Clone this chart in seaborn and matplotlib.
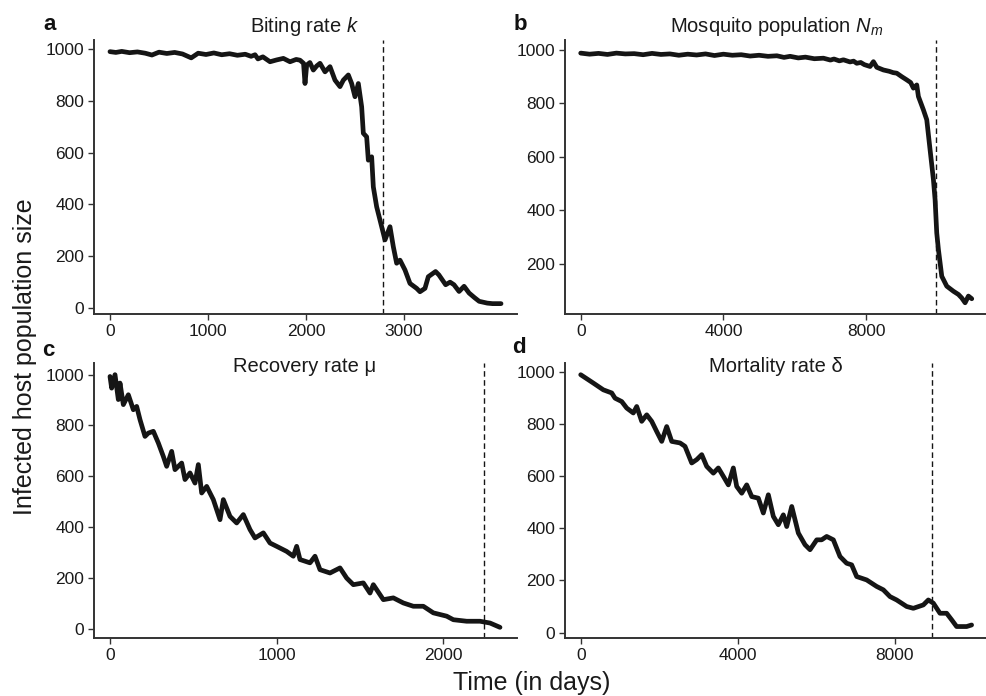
import matplotlib
matplotlib.use("Agg")
import matplotlib.pyplot as plt
import seaborn as sns
import pandas as pd

# ---------------- data ----------------
a_days = [0, 60, 120, 200, 280, 360, 428, 500, 580, 660, 740, 829, 900, 980, 1060, 1140,
          1220, 1300, 1380, 1440, 1480, 1510, 1560, 1633, 1700, 1769, 1837, 1900, 1939, 1975,
          1990, 2007, 2040, 2075, 2110, 2143, 2194, 2245, 2296, 2347, 2381, 2432, 2466, 2500,
          2534, 2568, 2585, 2619, 2636, 2670, 2687, 2721, 2755, 2806, 2857, 2891, 2925, 2959,
          3010, 3061, 3129, 3163, 3214, 3248, 3322, 3356, 3425, 3470, 3510, 3562, 3613, 3664,
          3720, 3767, 3850, 3904, 3990]
a_inf = [990, 987, 991, 986, 989, 984, 977, 988, 983, 987, 981, 966, 984, 979, 985, 978,
         982, 976, 980, 972, 978, 962, 970, 951, 958, 964, 951, 960, 957, 945,
         867, 938, 948, 919, 935, 945, 912, 932, 880, 855, 880, 900, 867, 816,
         867, 777, 675, 661, 571, 584, 468, 391, 340, 263, 314, 237, 173, 185,
         147, 95, 76, 63, 76, 121, 141, 128, 90, 100, 90, 64, 84, 58,
         40, 26, 19, 17, 17]

b_days = [0, 250, 500, 750, 1000, 1250, 1500, 1750, 2000, 2250, 2500, 2750, 3000, 3250,
          3500, 3750, 4000, 4250, 4500, 4750, 5000, 5250, 5500, 5700, 5870, 6100, 6300, 6550,
          6804, 7000, 7100, 7250, 7365, 7550, 7650, 7738, 7850, 7950, 8112, 8206, 8300, 8486,
          8650, 8760, 8860, 9000, 9140, 9250, 9327, 9421, 9467, 9607, 9701, 9794, 9888, 9935,
          9981, 10028, 10122, 10262, 10449, 10589, 10682, 10776, 10869, 10963]
b_inf = [988, 984, 987, 983, 988, 985, 986, 982, 987, 983, 985, 980, 984, 981,
         985, 979, 984, 980, 982, 977, 980, 976, 978, 972, 976, 970, 973, 967,
         969, 962, 966, 959, 963, 955, 958, 950, 953, 945, 938, 956, 935, 925,
         920, 915, 913, 900, 888, 878, 857, 869, 826, 776, 739, 627, 515, 440,
         316, 254, 154, 117, 98, 86, 73, 55, 80, 70]

c_days = [0, 10, 30, 50, 60, 80, 110, 140, 160, 180, 210, 230, 260, 290, 320, 340, 370,
          390, 430, 450, 480, 510, 530, 550, 580, 620, 660, 680, 720, 760, 800, 840, 870,
          920, 960, 1000, 1060, 1100, 1120, 1140, 1200, 1230, 1260, 1320, 1380, 1420, 1460,
          1520, 1560, 1580, 1640, 1700, 1760, 1820, 1880, 1940, 2020, 2060, 2140, 2220,
          2280, 2340]
c_inf = [993, 947, 1000, 902, 967, 882, 921, 862, 875, 823, 757, 770, 777, 731, 678, 639, 698,
         626, 652, 587, 613, 573, 646, 534, 560, 508, 429, 508, 442, 416, 449, 390, 357,
         377, 337, 324, 304, 285, 324, 272, 259, 285, 232, 219, 239, 199, 173,
         180, 140, 173, 114, 121, 101, 88, 88, 62, 49, 35, 29, 29,
         22, 5]

d_days = [0, 321, 576, 790, 874, 1045, 1172, 1340, 1427, 1554, 1682, 1809, 1936, 2064,
          2191, 2318, 2530, 2657, 2828, 2955, 3083, 3210, 3379, 3506, 3633, 3761, 3888, 3974,
          4102, 4229, 4357, 4525, 4652, 4780, 4907, 5034, 5162, 5248, 5376, 5544, 5715, 5842,
          6013, 6138, 6266, 6436, 6605, 6775, 6902, 7030, 7284, 7539, 7709, 7879, 8049, 8303,
          8473, 8728, 8855, 8982, 9152, 9322, 9449, 9576, 9831, 9958]
d_inf = [990, 958, 932, 920, 900, 887, 862, 843, 868, 811, 836, 811, 772, 734,
         791, 734, 728, 715, 651, 664, 683, 638, 612, 632, 600, 567, 632, 561,
         535, 567, 522, 516, 459, 529, 446, 414, 452, 407, 484, 382, 337, 318,
         356, 356, 369, 356, 292, 266, 260, 215, 202, 177, 164, 138, 125, 100,
         93, 106, 125, 113, 74, 74, 49, 23, 23, 29]

titles = ["Biting rate $k$", "Mosquito population $N_m$", "Recovery rate \u03bc", "Mortality rate \u03b4"]
letters = ["a", "b", "c", "d"]
thresholds = [2790, 9950, 2245, 8960]
xticks = [[0, 1000, 2000, 3000], [0, 4000, 8000], [0, 1000, 2000], [0, 4000, 8000]]
yticks = [[0, 200, 400, 600, 800, 1000], [200, 400, 600, 800, 1000],
          [0, 200, 400, 600, 800, 1000], [0, 200, 400, 600, 800, 1000]]
xlims = [(-163, 4153), (-440, 11390), (-96, 2442), (-400, 10350)]
ylims = [(-23, 1035), (13, 1037), (-37, 1046), (-21, 1035)]
x_label = "Time (in days)"
y_label = "Infected host population size"

# ---------------- style ----------------
sns.set_style("ticks")
plt.rcParams["font.family"] = ["Liberation Sans", "DejaVu Sans"]
plt.rcParams["mathtext.fontset"] = "custom"
plt.rcParams["mathtext.rm"] = "Liberation Sans"
plt.rcParams["mathtext.it"] = "Liberation Sans:italic"

W, H = 987, 696
fig = plt.figure(figsize=(W / 100, H / 100), dpi=100)
fig.patch.set_facecolor("white")

# axes rectangles in pixels: left, top, right, bottom
rects = [(94, 40, 517, 314), (565, 40, 987, 314), (94, 363, 517, 638), (565, 363, 987, 638)]
title_pos = [(305, 26), (777, 26), (305, 366), (776, 366)]
letter_pos = [(50, 25), (520, 25), (48, 350), (519, 347)]

series = [(a_days, a_inf), (b_days, b_inf), (c_days, c_inf), (d_days, d_inf)]
ink = "#151515"
for i, (days, inf) in enumerate(series):
    l, t, r, b = rects[i]
    ax = fig.add_axes([l / W, 1 - b / H, (r - l) / W, (b - t) / H])
    df = pd.DataFrame({"day": days, "infected": inf})
    sns.lineplot(data=df, x="day", y="infected", ax=ax, color=ink, linewidth=3.4,
                 estimator=None, sort=False, solid_joinstyle="round", solid_capstyle="round")
    ax.axvline(thresholds[i], color=ink, linewidth=1.0, linestyle=(0, (4, 2.5)))
    ax.set_xlim(*xlims[i])
    ax.set_ylim(*ylims[i])
    ax.set_xticks(xticks[i])
    ax.set_yticks(yticks[i])
    ax.set_xlabel("")
    ax.set_ylabel("")
    for s in ["top", "right"]:
        ax.spines[s].set_visible(False)
    for s in ["left", "bottom"]:
        ax.spines[s].set_color("#333333")
        ax.spines[s].set_linewidth(1.4)
    ax.tick_params(axis="both", direction="out", length=4, width=1.0, color="#333333",
                   labelsize=12.5, labelcolor="#1a1a1a", pad=3)
    ax.set_facecolor("white")
    tx, ty = title_pos[i]
    fig.text(tx / W, 1 - ty / H, titles[i], ha="center", va="center", fontsize=14.5, color="#1a1a1a")
    lx, ly = letter_pos[i]
    fig.text(lx / W, 1 - ly / H, letters[i], ha="center", va="center", fontsize=16,
             fontweight="bold", color="#111111")

fig.text(25 / W, 1 - 357 / H, y_label, rotation=90, ha="center", va="center",
         fontsize=18, color="#1a1a1a")
fig.text(532 / W, 1 - 683 / H, x_label, ha="center", va="center", fontsize=18, color="#1a1a1a")

fig.savefig("out.png", dpi=100)
